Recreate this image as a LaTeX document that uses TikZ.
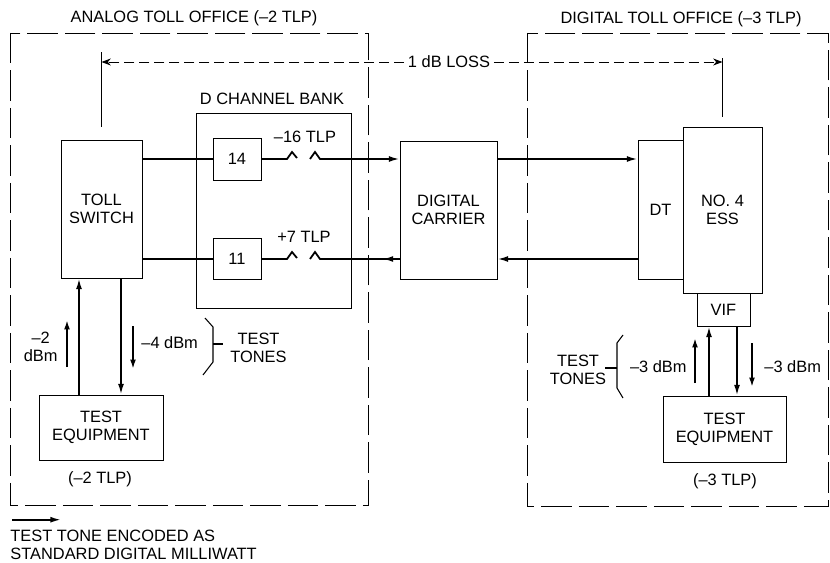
\documentclass[tikz,border=0pt]{standalone}
\usepackage{fontspec}
\setmainfont{Liberation Sans}
\usetikzlibrary{arrows.meta, positioning}

\tikzset{
  blk/.style    = {draw, line width=0.8pt, inner sep=0pt, align=center},
  sig/.style    = {line width=1.5pt, -{Latex[length=9pt,width=5pt]}},
  wire/.style   = {line width=1.5pt},
  tone/.style   = {line width=1.5pt, -{Latex[length=8pt,width=5pt]}},
  office/.style = {line width=0.8pt, dash pattern=on 26pt off 6pt},
  loss/.style   = {line width=0.8pt, dash pattern=on 8.5pt off 4.3pt,
                   -{Stealth[length=8pt,width=6pt]}},
  hair/.style   = {line width=0.9pt},
  lbl/.style    = {inner sep=1pt, align=center},
}

\begin{document}
\begin{tikzpicture}[x=0.03cm, y=-0.03cm, font=\fontsize{14}{15.5}\selectfont]
  \useasboundingbox (0,0) rectangle (830,563);

  % offices
  \draw[office] (10,33) rectangle (368,505);
  \draw[office] (527,33) rectangle (828,506);
  \node[lbl] (anoff) at (194,18) {ANALOG TOLL OFFICE (–2 TLP)};
  \node[lbl] (dgoff) at (681,19) {DIGITAL TOLL OFFICE (–3 TLP)};

  % analog side
  \node[blk, minimum width=2.43cm, minimum height=4.14cm] (ts) at (101.5,209) {TOLL\\SWITCH};
  \node[blk, minimum width=4.65cm, minimum height=5.85cm] (cb) at (273.5,210.5) {};
  \node[lbl] (cblbl) at (272,99) {D CHANNEL BANK};
  \node[blk, minimum width=1.44cm, minimum height=1.26cm] (b14) at (237,159) {14};
  \node[blk, minimum width=1.44cm, minimum height=1.23cm] (b11) at (237,259) {11};
  \node[lbl] (tlp16) at (305,137) {–16 TLP};
  \node[lbl] (tlp7) at (304,237) {+7 TLP};
  \node[blk, minimum width=3.72cm, minimum height=1.95cm] (lte) at (101,427.5) {TEST\\EQUIPMENT};
  \node[lbl] (ltlp) at (100,479) {(–2 TLP)};

  % digital carrier
  \node[blk, minimum width=2.91cm, minimum height=4.14cm] (dc) at (448.5,210) {DIGITAL\\CARRIER};

  % digital side
  \node[blk, minimum width=1.35cm, minimum height=4.17cm] (dt) at (660.5,209.5) {DT};
  \node[blk, minimum width=2.37cm, minimum height=4.98cm] (ess) at (722.5,210) {NO. 4\\ESS};
  \node[blk, minimum width=1.59cm, minimum height=0.99cm] (vif) at (723.5,309.5) {VIF};
  \node[blk, minimum width=3.69cm, minimum height=1.98cm] (rte) at (724.5,429) {TEST\\EQUIPMENT};
  \node[lbl] (rtlp) at (725,481) {(–3 TLP)};

  % 1 dB loss
  \node[lbl, inner sep=3pt] (loss) at (449,62) {1 dB LOSS};
  \coordinate (lossl) at (101.5,62);
  \coordinate (lossr) at (722.5,62);
  \draw[hair] (ts.north) ++(0,-13) -- ++(0,-75);
  \draw[hair] (ess.north) ++(0,-10) -- ++(0,-59);
  \draw[loss] (loss) -- (lossl);
  \draw[loss] (loss) -- (lossr);

  % channel paths
  \coordinate (brka) at (287,159);
  \coordinate (brkb) at (310,159);
  \coordinate (brkc) at (brka |- b11);
  \coordinate (brkd) at (brkb |- b11);
  \draw[wire] (ts.east |- b14) -- (b14);
  \draw[wire] (b14) -- (brka) -- ++(5,-7) -- ++(5,6);
  \draw[sig]  (brkb) -- ++(5,-7) -- ++(5,7) -- (dc.west |- b14);
  \draw[sig]  (dc.east |- b14) -- (dt.west |- b14);
  \draw[sig]  (dt.west |- b11) -- (dc.east |- b11);
  \draw[wire] (ts.east |- b11) -- (b11);
  \draw[wire] (b11) -- (brkc) -- ++(5,-7) -- ++(5,6);
  \draw[wire] (brkd) -- ++(5,-7) -- ++(5,7) -- (dc.west |- b11);
  \draw[sig]  (dc.west |- b11) -- ++(-17,0);

  % test equipment lines
  \coordinate (lu) at ([xshift=-0.66cm]lte.north);
  \coordinate (ld) at ([xshift=0.6cm]lte.north);
  \draw[sig] (lu) -- (lu |- ts.south);
  \draw[sig] (ld |- ts.south) -- (ld);
  \coordinate (ru) at ([xshift=-0.465cm]rte.north);
  \coordinate (rd) at ([xshift=0.375cm]rte.north);
  \draw[sig] (ru) -- (ru |- vif.south);
  \draw[sig] (rd |- vif.south) -- (rd);

  % tone levels
  \node[lbl, anchor=east] (m2) at (59,347) {–2\\dBm};
  \draw[tone] (m2.east) ++(8,20) -- ++(0,-47);
  \node[lbl, anchor=west] (m4) at (140,343) {–4 dBm};
  \draw[tone] (m4.west) ++(-7,-17) -- ++(0,43);
  \node[lbl, anchor=east] (m3a) at (688,367) {–3 dBm};
  \draw[tone] (m3a.east) ++(7,16) -- ++(0,-45);
  \node[lbl, anchor=west] (m3b) at (763,367) {–3 dBm};
  \draw[tone] (m3b.west) ++(-11,-24) -- ++(0,44);

  % test tone brackets
  \node[lbl] (tt1) at (258.5,348) {TEST\\TONES};
  \coordinate (bl) at (213,344);
  \draw[hair] (bl) ++(-8,-26) -- ++(8,9) -- ++(0,35) -- ++(-10,13);
  \draw[hair] (bl) -- ++(10,0);
  \node[lbl] (tt2) at (578,370) {TEST\\TONES};
  \coordinate (br) at (617,368);
  \draw[hair] (br) ++(6,-33) -- ++(-6,8) -- ++(0,45) -- ++(6,10);
  \draw[hair] (br) -- ++(-12,0);

  % legend
  \node[lbl, anchor=west, align=left] (leg) at (9,545)
    {TEST TONE ENCODED AS\\STANDARD DIGITAL MILLIWATT};
  \draw[sig] (leg.north west) ++(3,-9) -- ++(49,0);

\end{tikzpicture}
\end{document}
